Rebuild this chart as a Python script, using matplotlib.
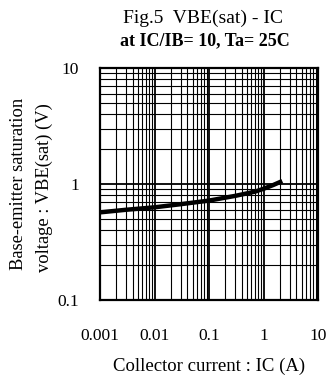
import numpy as np
import matplotlib
matplotlib.use("Agg")
import matplotlib.pyplot as plt
from matplotlib.ticker import LogLocator, NullFormatter, FixedFormatter, FixedLocator

plt.rcParams['font.family'] = ['Liberation Serif', 'DejaVu Serif']

# curve
ic = [0.001, 0.003, 0.01, 0.03, 0.1, 0.3, 0.7, 1.0, 1.5, 2.2]
vbe = [0.57, 0.60, 0.63, 0.67, 0.72, 0.79, 0.86, 0.91, 0.98, 1.06]

xticks = [0.001, 0.01, 0.1, 1, 10]
xlabels = ['0.001', '0.01', '0.1', '1', '10']
yticks = [0.1, 1, 10]
ylabels = ['0.1', '1', '10']

fig = plt.figure(figsize=(3.30, 3.79), dpi=100)
ax = fig.add_axes([0.303, 0.208, 0.661, 0.613])

ax.plot(ic, vbe, color='black', lw=3.2, solid_capstyle='butt')

ax.set_xscale('log')
ax.set_yscale('log')
ax.set_xlim(0.001, 10)
ax.set_ylim(0.1, 10)

ax.xaxis.set_major_locator(FixedLocator(xticks))
ax.xaxis.set_major_formatter(FixedFormatter(xlabels))
ax.yaxis.set_major_locator(FixedLocator(yticks))
ax.yaxis.set_major_formatter(FixedFormatter(ylabels))
for a in (ax.xaxis, ax.yaxis):
    a.set_minor_locator(LogLocator(base=10, subs=np.arange(2, 10)))
    a.set_minor_formatter(NullFormatter())

ax.grid(True, which='major', color='black', lw=1.3)
ax.grid(True, which='minor', color='black', lw=0.8)
ax.tick_params(which='both', length=0)
ax.tick_params(axis='x', pad=20, labelsize=12.5)
ax.tick_params(axis='y', pad=15, labelsize=12.5)
for s in ax.spines.values():
    s.set_linewidth(1.6)

ax.set_xlabel('Collector current : IC (A)', fontsize=13.5, labelpad=10)
# two-line y label placed line by line
fig.text(0.055, 0.514, 'Base-emitter saturation', rotation=90, ha='center', va='center', fontsize=13.3)
fig.text(0.133, 0.505, 'voltage : VBE(sat) (V)', rotation=90, ha='center', va='center', fontsize=13.3)

fig.text(0.615, 0.952, 'Fig.5  VBE(sat) - IC', ha='center', va='center', fontsize=14)
fig.text(0.62, 0.893, 'at IC/IB= 10, Ta= 25C', ha='center', va='center', fontsize=13, fontweight='bold')

fig.savefig('out.png', dpi=100)
